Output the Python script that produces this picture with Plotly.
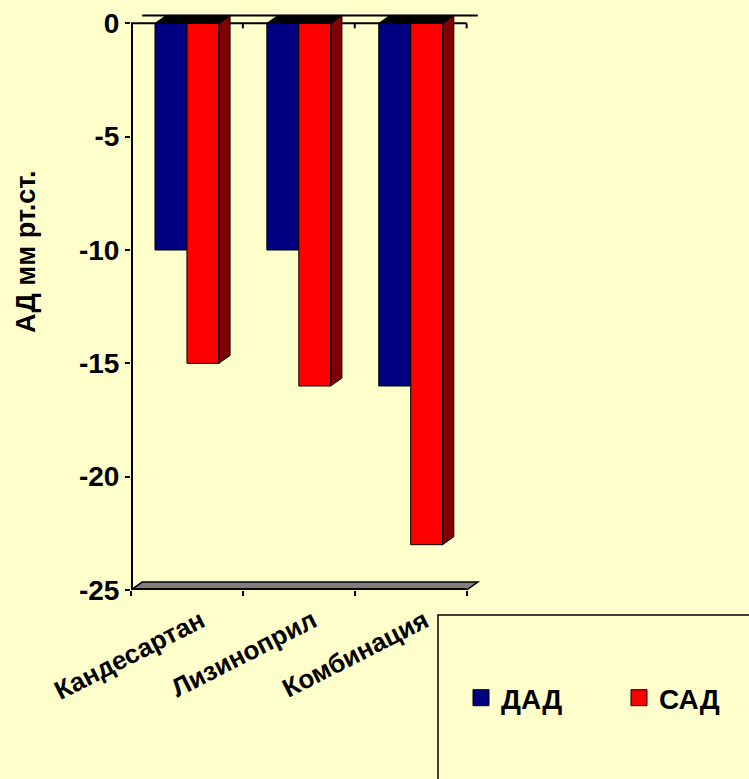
import plotly.graph_objects as go

# ---- data ----
categories = ["Кандесартан", "Лизиноприл", "Комбинация"]
series_names = ["ДАД", "САД"]
dad = [-10, -10, -16]
sad = [-15, -16, -23]
y_ticks = [0, -5, -10, -15, -20, -25]
y_title = "АД мм рт.ст."

# ---- style ----
BG = "#FFFFCC"
BLUE = "#000080"
RED = "#FF0000"
RED_SIDE = "#800000"
FLOOR = "#808080"
FONT = "Liberation Sans, Arial, sans-serif"

W, H = 749, 779
ML, MT = 131, 12
PW, PH = 358, 578
MR, MB = W - ML - PW, H - MT - PH

Y_LO, Y_HI = -25, 0.5
X_LO, X_HI = -0.5, 2.7

GROUP = 0.571          # share of a category occupied by a bar pair
BW = GROUP / 2
DX, DY = 0.1, 0.35     # 3-D depth offset in data units


def px_x(p):
    return (p - ML) / PW


def px_y(p):
    return (MT + PH - p) / PH


def path(pts):
    return "M " + " L ".join(f"{x},{y}" for x, y in pts) + " Z"


xs = list(range(len(categories)))
series = [dad, sad]
colors = [BLUE, RED]
legend_ids = ["legend", "legend2"]
legend_left_px = [461, 619]

fig = go.Figure()
for name, vals, col in zip(series_names, series, colors):
    fig.add_trace(go.Bar(
        x=xs, y=vals, name=name, showlegend=False,
        marker=dict(color=col, line=dict(color="black", width=1)),
        hoverinfo="skip",
    ))
# legend entries with larger square swatches, one small legend each
for name, col, lid in zip(series_names, colors, legend_ids):
    fig.add_trace(go.Scatter(
        x=[None], y=[None], mode="markers", name=name, legend=lid,
        marker=dict(symbol="square", size=17, color=col,
                    line=dict(color="black", width=1)),
    ))

shapes = []
# floor of the 3-D box
x_first, x_last = xs[0] - 0.5, xs[-1] + 0.5
shapes.append(dict(type="path", xref="x", yref="y", layer="below",
                   path=path([(x_first, Y_LO), (x_last, Y_LO),
                              (x_last + DX, Y_LO + DY), (x_first + DX, Y_LO + DY)]),
                   fillcolor=FLOOR, line=dict(color="black", width=1.5)))
shapes.append(dict(type="line", xref="x", yref="y", x0=x_first, x1=x_last,
                   y0=Y_LO, y1=Y_LO, line=dict(color="black", width=4)))
# zero plane edges
shapes.append(dict(type="line", xref="x", yref="y", x0=x_first, x1=x_last,
                   y0=0, y1=0, line=dict(color="black", width=2), layer="below"))
shapes.append(dict(type="line", xref="x", yref="y", x0=x_first + DX, x1=x_last + DX,
                   y0=DY, y1=DY, line=dict(color="black", width=2), layer="below"))
tick_len = 5 * (Y_HI - Y_LO) / PH
for b in [c + 0.5 for c in xs]:
    shapes.append(dict(type="line", xref="x", yref="y", x0=b, x1=b,
                       y0=0, y1=-tick_len, line=dict(color="black", width=2), layer="below"))
# value axis line
shapes.append(dict(type="line", xref="x", yref="y", x0=X_LO, x1=X_LO,
                   y0=Y_LO, y1=0, line=dict(color="black", width=4)))

# 3-D top and side faces of every bar
for j, vals in enumerate(series):
    for i, v in zip(xs, vals):
        left = i - BW + j * BW
        right = left + BW
        if j == len(series) - 1:
            shapes.append(dict(type="path", xref="x", yref="y",
                               path=path([(right, 0), (right + DX, DY),
                                          (right + DX, v + DY), (right, v)]),
                               fillcolor=RED_SIDE, line=dict(color="black", width=1)))
        shapes.append(dict(type="path", xref="x", yref="y",
                           path=path([(left, 0), (right, 0),
                                      (right + DX, DY), (left + DX, DY)]),
                           fillcolor="black", line=dict(color="black", width=1)))

# legend frame
shapes.append(dict(type="rect", xref="paper", yref="paper",
                   x0=px_x(438), x1=px_x(760), y0=px_y(615), y1=px_y(790),
                   line=dict(color="black", width=1.5), fillcolor="rgba(0,0,0,0)"))

legend_style = dict(orientation="h", xanchor="left", yanchor="middle",
                    y=px_y(698), bgcolor="rgba(0,0,0,0)", borderwidth=0,
                    itemsizing="trace",
                    font=dict(family=FONT, size=28, weight="bold"))

fig.update_layout(
    width=W, height=H,
    margin=dict(l=ML, r=MR, t=MT, b=MB, pad=0, autoexpand=False),
    paper_bgcolor=BG, plot_bgcolor=BG,
    barmode="group", bargap=1 - GROUP, bargroupgap=0,
    font=dict(family=FONT, color="black"),
    shapes=shapes,
    showlegend=True,
    legend=dict(x=px_x(legend_left_px[0]), **legend_style),
    legend2=dict(x=px_x(legend_left_px[1]), **legend_style),
    xaxis=dict(range=[X_LO, X_HI], tickvals=xs, ticktext=categories,
               tickangle=-27, ticks="", showgrid=False, zeroline=False,
               showline=False, ticklabelshift=14, ticklabelstandoff=10,
               automargin=False,
               tickfont=dict(family=FONT, size=26, weight="bold"),
               minor=dict(tickvals=[c - 0.5 for c in xs] + [xs[-1] + 0.5],
                          ticks="outside", ticklen=5, tickwidth=2,
                          tickcolor="black", showgrid=False)),
    yaxis=dict(range=[Y_LO, Y_HI], tickvals=y_ticks,
               ticktext=[str(v) for v in y_ticks],
               ticks="outside", ticklen=5, tickwidth=2, tickcolor="black",
               showgrid=False, zeroline=False, showline=False,
               automargin=False,
               tickfont=dict(family=FONT, size=28, weight="bold")),
    annotations=[dict(text=y_title, xref="paper", yref="paper",
                      x=px_x(26), y=px_y(252), xanchor="center", yanchor="middle",
                      textangle=-90, showarrow=False,
                      font=dict(family=FONT, size=27, weight="bold"))],
)

fig.write_html("out.html")
